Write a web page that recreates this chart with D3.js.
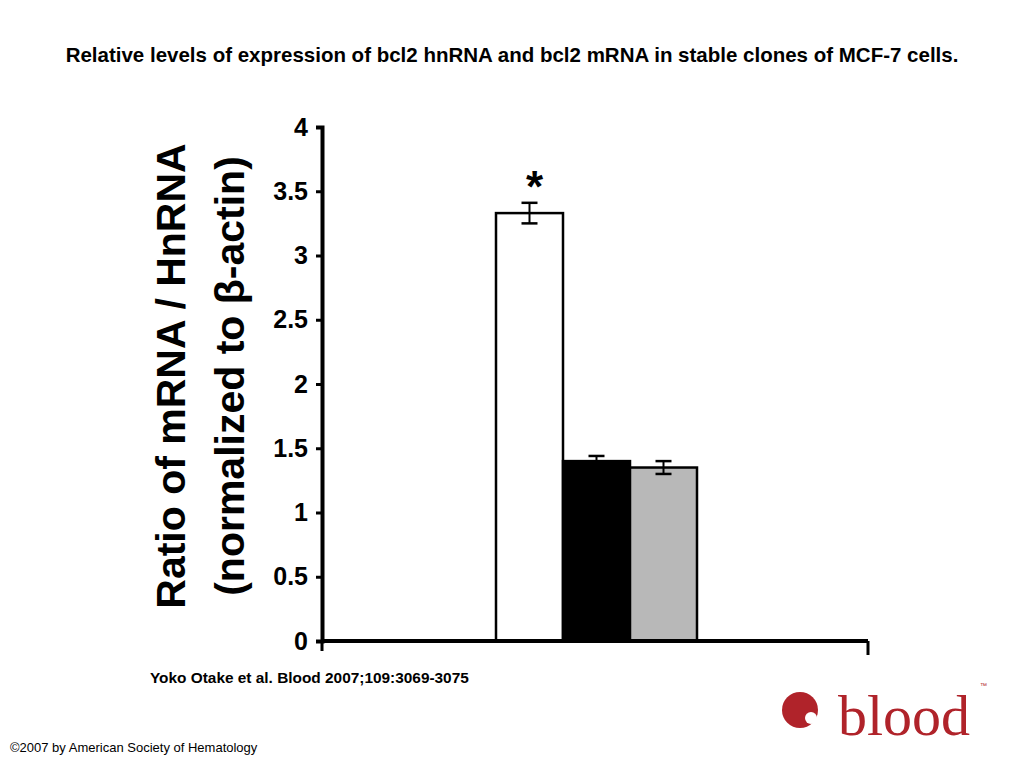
<!DOCTYPE html>
<html><head><meta charset="utf-8">
<script src="https://cdn.jsdelivr.net/npm/d3@7"></script>
<style>body{margin:0;background:#fff;font-family:"Liberation Sans",Arial,sans-serif}</style>
</head><body>
<div id="chart"></div>
<script>
// data
let groups = ["A","B","C"];
let values = [3.33, 1.40, 1.35];
let errors = [0.08, 0.04, 0.05];
let fills = ["#ffffff","#000000","#b8b8b8"];
let yTicks = [0,0.5,1,1.5,2,2.5,3,3.5,4];

let svg = d3.select("#chart").append("svg").attr("width",1024).attr("height",768);

svg.append("text").attr("x",512).attr("y",62).attr("text-anchor","middle")
	.attr("font-weight","bold").attr("font-size",20.5).text("Relative levels of expression of bcl2 hnRNA and bcl2 mRNA in stable clones of MCF-7 cells.");

let margin = {left:322, top:127};
let width = 546, height = 514;
let plot = svg.append("g").attr("transform","translate("+margin.left+","+margin.top+")");

let x = d3.scaleBand().domain(groups).range([174,375]).padding(0);
let y = d3.scaleLinear().domain([0,4]).range([height,0]);

// bars
plot.selectAll("rect.bar").data(values).enter().append("rect")
	.attr("x",(d,i)=>x(groups[i])).attr("width",x.bandwidth())
	.attr("y",d=>y(d)).attr("height",d=>height-y(d))
	.attr("fill",(d,i)=>fills[i]).attr("stroke","#000").attr("stroke-width",2.5);

// error bars
let eb = plot.selectAll("g.err").data(values).enter().append("g")
	.attr("transform",(d,i)=>"translate("+(x(groups[i])+x.bandwidth()/2)+",0)");
eb.append("line").attr("y1",(d,i)=>y(d+errors[i])).attr("y2",(d,i)=>y(d-errors[i])).attr("stroke","#000").attr("stroke-width",2);
eb.append("line").attr("x1",-8).attr("x2",8).attr("y1",(d,i)=>y(d+errors[i])).attr("y2",(d,i)=>y(d+errors[i])).attr("stroke","#000").attr("stroke-width",2.5);
eb.append("line").attr("x1",-8).attr("x2",8).attr("y1",(d,i)=>y(d-errors[i])).attr("y2",(d,i)=>y(d-errors[i])).attr("stroke","#000").attr("stroke-width",2.5);

plot.append("text").attr("x",x("A")+x.bandwidth()/2+5).attr("y",y(values[0]+errors[0])-1)
	.attr("text-anchor","middle").attr("font-size",44).attr("font-weight","bold").text("*");

// axes
let yAxis = plot.append("g").call(d3.axisLeft(y).tickValues(yTicks).tickSize(6).tickFormat(d3.format("")));
yAxis.select(".domain").attr("stroke-width",4);
yAxis.selectAll(".tick line").attr("stroke-width",3);
yAxis.selectAll(".tick text").attr("font-size",25).attr("font-weight","bold").attr("x",-14)
	.attr("font-family","Liberation Sans, Arial, sans-serif");
plot.append("line").attr("x1",0).attr("x2",width).attr("y1",height).attr("y2",height).attr("stroke","#000").attr("stroke-width",4);
plot.append("line").attr("x1",width).attr("x2",width).attr("y1",height).attr("y2",height+14).attr("stroke","#000").attr("stroke-width",3);
plot.append("line").attr("x1",0).attr("x2",0).attr("y1",height).attr("y2",height+10).attr("stroke","#000").attr("stroke-width",3);

// y label
let lab = svg.append("text").attr("transform","translate(0,376) rotate(-90)").attr("text-anchor","middle")
	.attr("font-weight","bold").attr("font-size",41);
lab.append("tspan").attr("x",0).attr("y",185).text("Ratio of mRNA / HnRNA");
lab.append("tspan").attr("x",0).attr("y",244).text("(normalized to β-actin)");

svg.append("text").attr("x",150).attr("y",683).attr("font-weight","bold").attr("font-size",15.4)
	.text("Yoko Otake et al. Blood 2007;109:3069-3075");
svg.append("text").attr("x",10).attr("y",752).attr("font-size",13).text("©2007 by American Society of Hematology");

// logo
let logo = svg.append("g").attr("fill","#b0232a");
logo.append("circle").attr("cx",800).attr("cy",710).attr("r",18);
logo.append("circle").attr("cx",811).attr("cy",718).attr("r",6).attr("fill","#fff");
logo.append("text").attr("x",838).attr("y",735).attr("font-family","Liberation Serif, serif").attr("font-size",58).text("blood");
logo.append("text").attr("x",980).attr("y",688).attr("font-size",7).text("™");
</script>
</body></html>
